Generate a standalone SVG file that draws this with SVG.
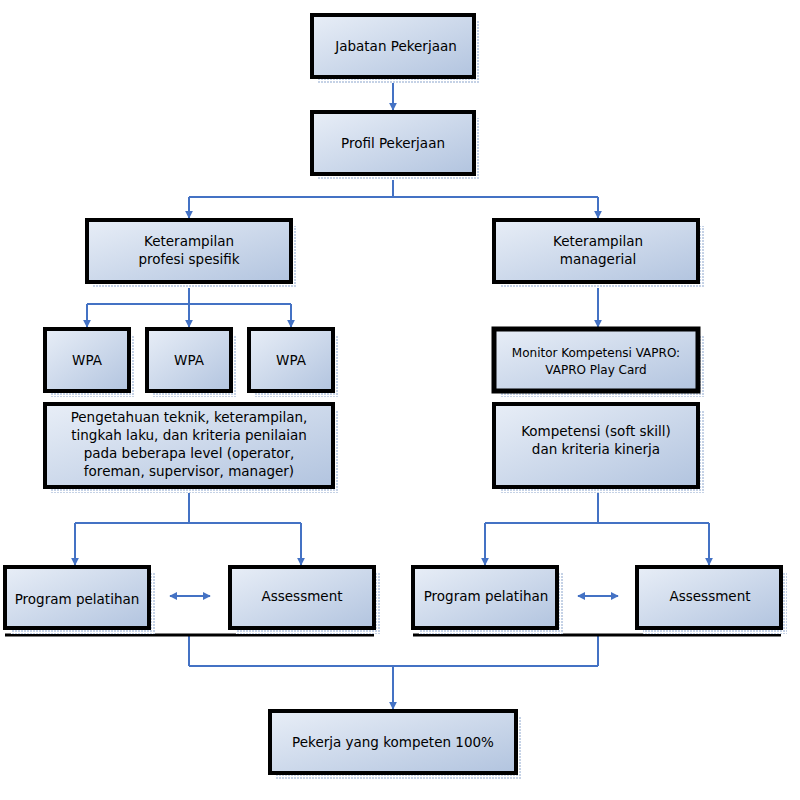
<svg xmlns="http://www.w3.org/2000/svg" width="800" height="800" viewBox="0 0 800 800">
<defs>
<linearGradient id="g" x1="0" y1="0" x2="1" y2="1">
<stop offset="0" stop-color="#e8eef7"/><stop offset="1" stop-color="#b2c4df"/>
</linearGradient>
<pattern id="sh" width="3" height="3" patternUnits="userSpaceOnUse">
<rect width="3" height="3" fill="#ffffff"/><rect width="2" height="2" fill="#c5d2e6"/>
</pattern>
<marker id="a" viewBox="0 0 10 10" refX="9" refY="5" markerWidth="4" markerHeight="4" orient="auto-start-reverse">
<path d="M0,0 L10,5 L0,10 z" fill="#4472c4"/>
</marker>
</defs>
<style>
.b{fill:url(#g);stroke:#000;stroke-width:4}
.s{fill:url(#sh)}
.t{font-family:"DejaVu Sans",Verdana,sans-serif;font-size:13.5px;fill:#000;text-anchor:middle}
.c{fill:none;stroke:#4472c4;stroke-width:2}
.ca{fill:none;stroke:#4472c4;stroke-width:2;marker-end:url(#a)}
</style>
<rect width="800" height="800" fill="#fff"/>
<g id="connectors">
<path class="ca" d="M393,77 V110"/>
<path class="c" d="M393,174 V197 M189,197 H598"/>
<path class="ca" d="M189,197 V218"/>
<path class="ca" d="M598,197 V218"/>
<path class="c" d="M189,282 V304 M87,304 H291"/>
<path class="ca" d="M87,304 V327"/>
<path class="ca" d="M189,304 V327"/>
<path class="ca" d="M291,304 V327"/>
<path class="ca" d="M598,282 V327"/>
<path class="c" d="M189,487 V523 M75,523 H301"/>
<path class="ca" d="M75,523 V565"/>
<path class="ca" d="M301,523 V565"/>
<path class="c" d="M598,487 V523 M485,523 H709"/>
<path class="ca" d="M485,523 V565"/>
<path class="ca" d="M709,523 V565"/>
<path class="c" d="M189,636 V666 M598,636 V666 M189,666 H598"/>
<path class="ca" d="M393,666 V709"/>
<path class="ca" d="M170,596 H210" marker-start="url(#a)"/>
<path class="ca" d="M578,596 H618" marker-start="url(#a)"/>
<path d="M5,635 H374 M413,635 H781" stroke="#000" stroke-width="3"/>
</g>
<g id="n1"><rect class="s" x="318" y="21" width="162" height="62"/><rect class="b" x="312" y="15" width="162" height="62"/><text class="t" x="396" y="51">Jabatan Pekerjaan</text></g>
<g id="n2"><rect class="s" x="318" y="118" width="162" height="62"/><rect class="b" x="312" y="112" width="162" height="62"/><text class="t" x="393" y="148">Profil Pekerjaan</text></g>
<g id="n3"><rect class="s" x="93" y="226" width="204" height="62"/><rect class="b" x="87" y="220" width="204" height="62"/><text class="t" x="189" y="246">Keterampilan</text><text class="t" x="189" y="264">profesi spesifik</text></g>
<g id="n4"><rect class="s" x="500" y="226" width="204" height="62"/><rect class="b" x="494" y="220" width="204" height="62"/><text class="t" x="598" y="246">Keterampilan</text><text class="t" x="598" y="264">managerial</text></g>
<g id="n5"><rect class="s" x="51" y="335" width="84" height="62"/><rect class="b" x="45" y="329" width="84" height="62"/><text class="t" x="87" y="365">WPA</text></g>
<g id="n6"><rect class="s" x="153" y="335" width="84" height="62"/><rect class="b" x="147" y="329" width="84" height="62"/><text class="t" x="189" y="365">WPA</text></g>
<g id="n7"><rect class="s" x="255" y="335" width="84" height="62"/><rect class="b" x="249" y="329" width="84" height="62"/><text class="t" x="291" y="365">WPA</text></g>
<g id="n8"><rect class="s" x="51" y="410" width="288" height="83"/><rect class="b" x="45" y="404" width="288" height="83"/><text class="t" x="189" y="422">Pengetahuan teknik, keterampilan,</text><text class="t" x="189" y="440">tingkah laku, dan kriteria penilaian</text><text class="t" x="189" y="458">pada beberapa level (operator,</text><text class="t" x="189" y="476">foreman, supervisor, manager)</text></g>
<g id="n9"><rect class="s" x="500" y="335" width="204" height="62"/><rect class="b" x="494" y="329" width="204" height="62" style="stroke-width:5"/><text class="t" x="596" y="357" style="font-size:12px">Monitor Kompetensi VAPRO:</text><text class="t" x="596" y="374" style="font-size:12px">VAPRO Play Card</text></g>
<g id="n10"><rect class="s" x="500" y="410" width="204" height="83"/><rect class="b" x="494" y="404" width="204" height="83"/><text class="t" x="596" y="436">Kompetensi (soft skill)</text><text class="t" x="596" y="454">dan kriteria kinerja</text></g>
<g id="n11"><rect class="s" x="11" y="573" width="144" height="61"/><rect class="b" x="5" y="567" width="144" height="61"/><text class="t" x="77" y="604">Program pelatihan</text></g>
<g id="n12"><rect class="s" x="236" y="573" width="144" height="61"/><rect class="b" x="230" y="567" width="144" height="61"/><text class="t" x="302" y="601">Assessment</text></g>
<g id="n13"><rect class="s" x="419" y="573" width="144" height="61"/><rect class="b" x="413" y="567" width="144" height="61"/><text class="t" x="486" y="601">Program pelatihan</text></g>
<g id="n14"><rect class="s" x="643" y="573" width="144" height="61"/><rect class="b" x="637" y="567" width="144" height="61"/><text class="t" x="710" y="601">Assessment</text></g>
<g id="n15"><rect class="s" x="276" y="717" width="246" height="62"/><rect class="b" x="270" y="711" width="246" height="62"/><text class="t" x="393" y="747">Pekerja yang kompeten 100%</text></g>
</svg>
